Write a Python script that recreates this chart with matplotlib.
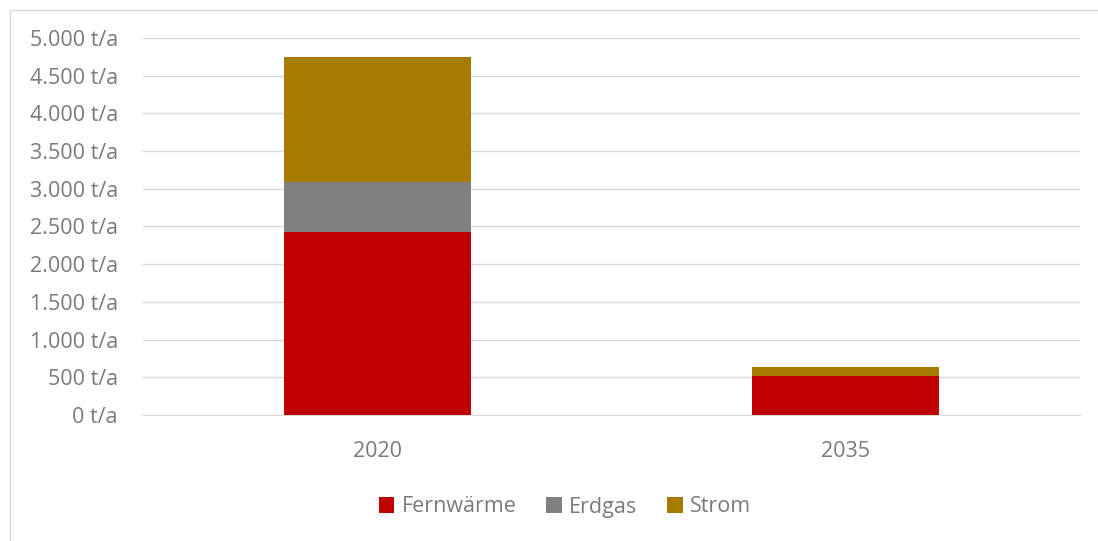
import matplotlib
matplotlib.use("Agg")
import matplotlib.pyplot as plt
from matplotlib.patches import Rectangle
from matplotlib.ticker import FuncFormatter

categories = ["2020", "2035"]
fernwaerme = [2430, 513]
erdgas = [655, 0]
strom = [1663, 128]
series_names = ["Fernwärme", "Erdgas", "Strom"]
colors = ["#C00000", "#808080", "#A67B00"]

plt.rcParams['font.family'] = ['Open Sans', 'DejaVu Sans']

fig = plt.figure(figsize=(10.98, 5.41), dpi=100)
W, H = 1098, 541
ax = fig.add_axes([143 / W, 1 - 415 / H, (1080 - 143) / W, (415 - 38) / H])

# outer frame (left + top visible)
fig.patches.append(Rectangle((10 / W, -0.05), 1.2, 1 - 10 / H + 0.05,
                             transform=fig.transFigure, fill=False,
                             edgecolor="#D9D9D9", linewidth=1.0))

x = range(len(categories))
bottom1 = fernwaerme
bottom2 = [a + b for a, b in zip(fernwaerme, erdgas)]
ax.bar(x, fernwaerme, width=0.4, color=colors[0], label=series_names[0], zorder=3)
ax.bar(x, erdgas, width=0.4, bottom=bottom1, color=colors[1], label=series_names[1], zorder=3)
ax.bar(x, strom, width=0.4, bottom=bottom2, color=colors[2], label=series_names[2], zorder=3)

ax.set_xlim(-0.5, 1.5)
ax.set_ylim(0, 5000)
ax.set_yticks(range(0, 5001, 500))
ax.yaxis.set_major_formatter(FuncFormatter(lambda v, p: f"{int(v):,}".replace(",", ".") + " t/a"))
ax.set_xticks(list(x))
ax.set_xticklabels(categories)
ax.grid(axis="y", color="#D9D9D9", linewidth=1.0, zorder=0)
for s in ["top", "right", "left"]:
    ax.spines[s].set_visible(False)
ax.spines["bottom"].set_color("#D9D9D9")
ax.tick_params(axis="both", length=0, labelsize=15.5, labelcolor="#7A7A7A")
ax.tick_params(axis="y", pad=18)
ax.tick_params(axis="x", pad=19)

leg = fig.legend(loc="center", bbox_to_anchor=(565 / W, 1 - 507 / H), ncol=3,
                 frameon=False, fontsize=15.5, handlelength=0.7, handleheight=0.7,
                 handletextpad=0.35, columnspacing=1.4)
for t in leg.get_texts():
    t.set_color("#7A7A7A")

fig.savefig("out.png", dpi=100)
